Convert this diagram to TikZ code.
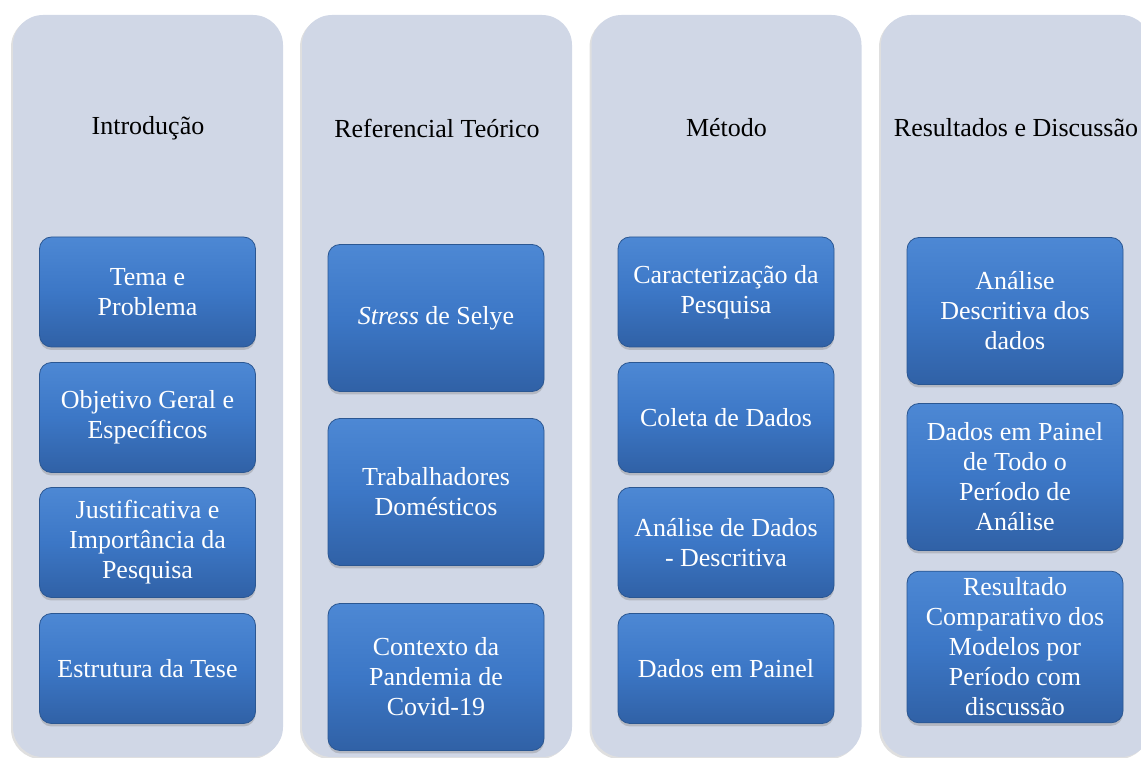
\documentclass[tikz,border=0pt]{standalone}
\usepackage{fontspec}
\setmainfont{Liberation Serif}
\usetikzlibrary{shadows}
\definecolor{panelgray}{HTML}{D0D7E6}
\definecolor{boxtop}{HTML}{4D88D4}
\definecolor{boxmid}{HTML}{3C77C6}
\definecolor{boxbottom}{HTML}{3061A6}
\definecolor{boxedge}{HTML}{2B5792}

\begin{document}
\begin{tikzpicture}[
  x=0.5pt,y=-0.5pt,
  font=\fontsize{13}{15}\selectfont,
  panel/.style={fill=panelgray,rounded corners=15pt,minimum width=135pt,
    minimum height=371pt,
    drop shadow={shadow xshift=-1pt,shadow yshift=-1pt,opacity=0.25}},
  title/.style={text=black,align=center},
  topic/.style={draw=boxedge,line width=0.4pt,rounded corners=6pt,
    top color=boxtop,bottom color=boxbottom,middle color=boxmid,
    text=white,align=center,minimum width=108pt,minimum height=55pt,
    drop shadow={shadow xshift=0pt,shadow yshift=-1.5pt,opacity=0.35}},
  tallbox/.style={topic,minimum height=73.5pt}
]
  \useasboundingbox (0,0) rectangle (1141,758);

  \node[panel] (intro) at (148,386) {};
  \node[panel] (theory) at (437,386) {};
  \node[panel] (method) at (726.5,386) {};
  \node[panel] (results) at (1016,386) {};

  \node[title] (introtitle) at (148,128) {Introdução};
  \node[title] (theorytitle) at (437,128) {Referencial Teórico};
  \node[title] (methodtitle) at (726.5,128) {Método};
  \node[title] (resultstitle) at (1016,128) {Resultados e Discussão};

  \node[topic] (tema) at (147.5,292) {Tema e\\Problema};
  \node[topic] (objetivo) at (147.5,417.5) {Objetivo Geral e\\Específicos};
  \node[topic] (justif) at (147.5,542.5) {Justificativa e\\Importância da\\Pesquisa};
  \node[topic] (estrutura) at (147.5,668.5) {Estrutura da Tese};

  \node[tallbox] (selye) at (436,318) {\textit{Stress} de Selye};
  \node[tallbox] (domest) at (436,492) {Trabalhadores\\Domésticos};
  \node[tallbox] (covid) at (436,677) {Contexto da\\Pandemia de\\Covid-19};

  \node[topic] (caract) at (726,292) {Caracterização da\\Pesquisa};
  \node[topic] (coleta) at (726,417.5) {Coleta de Dados};
  \node[topic] (descr) at (726,542.5) {Análise de Dados\\- Descritiva};
  \node[topic] (painel) at (726,668.5) {Dados em Painel};

  \node[tallbox] (analise) at (1015,311) {Análise\\Descritiva dos\\dados};
  \node[tallbox] (periodo) at (1015,477) {Dados em Painel\\de Todo o\\Período de\\Análise};
  \node[tallbox] (compar) at (1015,647) {Resultado\\Comparativo dos\\Modelos por\\Período com\\discussão};
\end{tikzpicture}
\end{document}
